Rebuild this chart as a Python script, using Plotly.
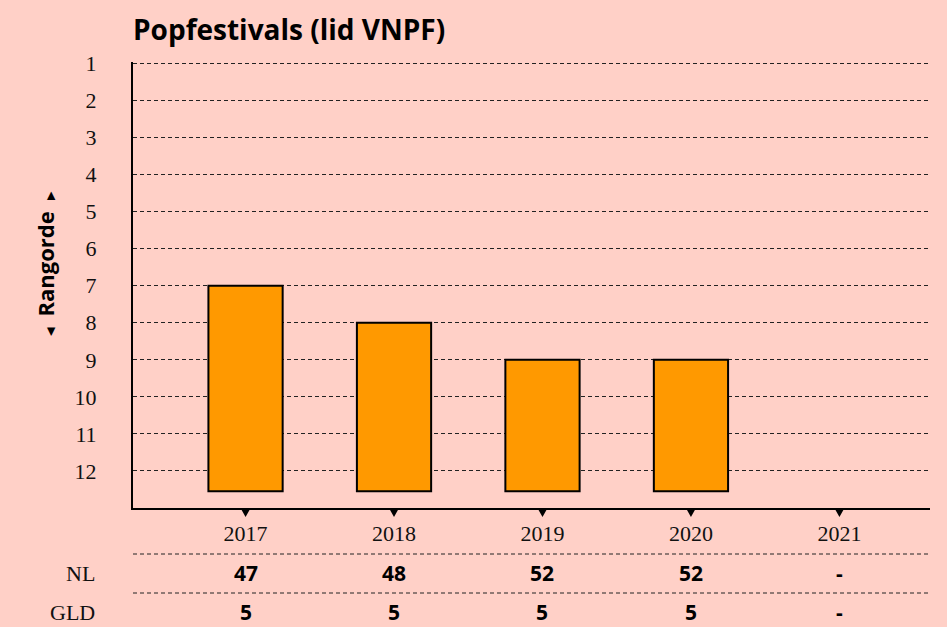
import plotly.graph_objects as go

# ---- data ----
years = ["2017", "2018", "2019", "2020", "2021"]
rank = [7, 8, 9, 9, None]
nl_values = ["47", "48", "52", "52", "-"]
gld_values = ["5", "5", "5", "5", "-"]
row_labels = ["NL", "GLD"]
y_ticks = list(range(1, 13))

# ---- style ----
BG = "#FFD0C7"
BAR_COLOR = "#FF9900"
BAR_BASE = 12.55
SERIF = "Liberation Serif"
SANS = "Open Sans"

W, H = 947, 627
ML, MR, MT, MB = 133, 17, 62, 119
plot_h = H - MT - MB
plot_w = W - ML - MR

def py(p):
    return (H - MB - p) / plot_h

def px(p):
    return (p - ML) / plot_w

xs = list(range(len(years)))

fig = go.Figure()

fig.add_trace(go.Bar(
    x=xs,
    y=[None if r is None else r - BAR_BASE for r in rank],
    base=BAR_BASE,
    width=0.5,
    marker=dict(color=BAR_COLOR, line=dict(color="#000000", width=2)),
    hoverinfo="skip",
    showlegend=False,
))

annotations = []
rows = [nl_values, gld_values]
row_y = [573, 612]
for lab, vals, yp in zip(row_labels, rows, row_y):
    annotations.append(dict(
        x=px(97), y=py(yp), xref="paper", yref="paper", text=lab,
        showarrow=False, xanchor="right", yanchor="middle",
        font=dict(family=SERIF, size=22, color="#111111"),
    ))
    for xi, v in zip(xs, vals):
        annotations.append(dict(
            x=xi, y=py(yp), xref="x", yref="paper", text="<b>" + v + "</b>",
            showarrow=False, xanchor="center", yanchor="middle",
            font=dict(family=SANS, size=21, color="#000000"),
        ))

annotations.append(dict(
    x=px(45), y=py(264), xref="paper", yref="paper",
    text="<span style='font-size:11px'>\u25c0</span>  <b>Rangorde</b>  <span style='font-size:11px'>\u25b6</span>",
    textangle=-90,
    showarrow=False, xanchor="center", yanchor="middle",
    font=dict(family=SANS, size=22, color="#000000"),
))

shapes = []
for yp in [554, 593]:
    shapes.append(dict(
        type="line", xref="paper", yref="paper", x0=0, x1=1, y0=py(yp), y1=py(yp),
        line=dict(color="#222222", width=1, dash="4px,3px"),
    ))

# small tick triangles under the x axis
half = 4.5 / 148.4
for xi in xs:
    shapes.append(dict(
        type="path", xref="x", yref="paper",
        path=f"M {xi - half} {py(509)} L {xi + half} {py(509)} L {xi} {py(517)} Z",
        fillcolor="#000000", line=dict(width=0),
    ))

fig.update_layout(
    width=W, height=H,
    margin=dict(l=ML, r=MR, t=MT, b=MB, pad=0),
    paper_bgcolor=BG, plot_bgcolor=BG,
    title=dict(
        text="<b>Popfestivals (lid VNPF)</b>",
        x=0, xref="paper", xanchor="left",
        y=1 - 30 / H, yref="container", yanchor="middle",
        font=dict(family=SANS, size=28, color="#000000"),
    ),
    xaxis=dict(
        range=[-0.758, 4.61],
        tickvals=xs, ticktext=years,
        showgrid=False, zeroline=False,
        showline=True, linecolor="#000000", linewidth=2,
        ticks="", ticklabelstandoff=5,
        tickfont=dict(family=SERIF, size=22, color="#111111"),
    ),
    yaxis=dict(
        range=[13, 0.96],
        tickvals=y_ticks, ticktext=[str(v) for v in y_ticks],
        showgrid=True, gridcolor="#222222", gridwidth=1, griddash="4px,3px",
        zeroline=False,
        showline=True, linecolor="#000000", linewidth=2,
        ticks="", ticklabelstandoff=30,
        tickfont=dict(family=SERIF, size=22, color="#111111"),
    ),
    annotations=annotations,
    shapes=shapes,
    bargap=0.5,
)

fig.write_html("out.html", config={"displayModeBar": False},
               post_script="document.body.style.margin='0';")
